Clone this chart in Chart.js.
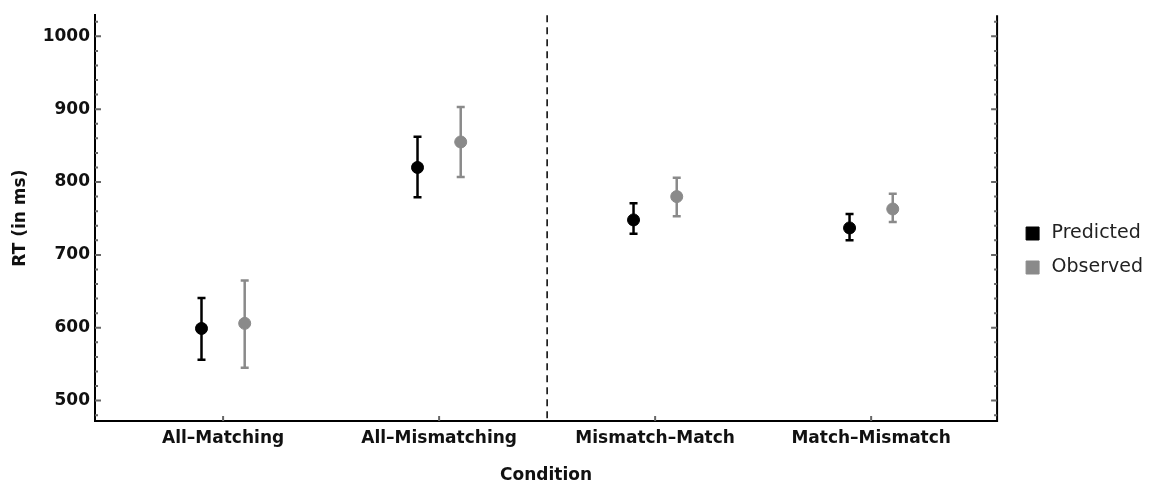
<!DOCTYPE html>
<html>
<head>
<meta charset="utf-8">
<script src="https://cdn.jsdelivr.net/npm/chart.js@4"></script>
<style>
html,body{margin:0;padding:0;background:#fff;}
#wrap{width:1153px;height:484px;position:relative;}
</style>
</head>
<body>
<div id="wrap"><canvas id="c" width="1153" height="484"></canvas></div>
<script>
// ---- data ----
const categories = ['All\u2013Matching', 'All\u2013Mismatching', 'Mismatch\u2013Match', 'Match\u2013Mismatch'];
const predicted     = [599, 820, 748, 737];
const predictedLow  = [556, 779, 729, 720];
const predictedHigh = [641, 862, 771, 756];
const observed      = [606, 855, 780, 763];
const observedLow   = [545, 807, 753, 745];
const observedHigh  = [665, 903, 806, 784];
const yTickValues = [500, 600, 700, 800, 900, 1000];
const yMinorTickValues = [480, 520, 540, 560, 580, 620, 640, 660, 680, 720, 740, 760, 780, 820, 840, 860, 880, 920, 940, 960, 980, 1020];
const dividerAfterCategory = 2;

// ---- styling ----
const FONT = 'DejaVu Sans';
const DODGE = 0.1;
const PRED_COLOR = '#000000';
const OBS_COLOR = '#8a8a8a';
const TEXT_COLOR = '#111111';
const TICK_COLOR = '#666666';

Chart.defaults.font.family = FONT;

const errorBars = [
  {low: predictedLow, high: predictedHigh},
  {low: observedLow, high: observedHigh}
];

const decorPlugin = {
  id: 'decor',
  beforeDatasetsDraw(chart) {
    const ctx = chart.ctx;
    const xs = chart.scales.x, ys = chart.scales.y;
    ctx.save();
    chart.data.datasets.forEach((ds, di) => {
      const eb = errorBars[di];
      ctx.strokeStyle = ds.borderColor;
      ctx.lineWidth = 2.5;
      ds.data.forEach((pt, i) => {
        const px = xs.getPixelForValue(pt.x);
        const pl = ys.getPixelForValue(eb.low[i]);
        const ph = ys.getPixelForValue(eb.high[i]);
        ctx.beginPath();
        ctx.moveTo(px, pl); ctx.lineTo(px, ph);
        ctx.moveTo(px - 4, pl); ctx.lineTo(px + 4, pl);
        ctx.moveTo(px - 4, ph); ctx.lineTo(px + 4, ph);
        ctx.stroke();
      });
    });
    ctx.restore();
  },
  afterDraw(chart) {
    const ctx = chart.ctx;
    const xs = chart.scales.x, ys = chart.scales.y;
    const a = chart.chartArea;
    ctx.save();
    // right frame line
    ctx.strokeStyle = '#000';
    ctx.lineWidth = 2;
    ctx.beginPath();
    ctx.moveTo(a.right, a.top); ctx.lineTo(a.right, a.bottom + 1);
    ctx.stroke();
    // dashed divider
    const dx = xs.getPixelForValue(dividerAfterCategory + 0.5);
    ctx.lineWidth = 1.5;
    ctx.setLineDash([7, 5]);
    ctx.beginPath();
    ctx.moveTo(dx, a.top); ctx.lineTo(dx, a.bottom);
    ctx.stroke();
    ctx.setLineDash([]);
    // ticks
    ctx.strokeStyle = TICK_COLOR;
    ctx.lineWidth = 2;
    ctx.beginPath();
    yTickValues.forEach(v => {
      const py = ys.getPixelForValue(v);
      ctx.moveTo(a.left, py); ctx.lineTo(a.left + 6, py);
      ctx.moveTo(a.right, py); ctx.lineTo(a.right - 6, py);
    });
    yMinorTickValues.forEach(v => {
      const py = ys.getPixelForValue(v);
      ctx.moveTo(a.left, py); ctx.lineTo(a.left + 3, py);
      ctx.moveTo(a.right, py); ctx.lineTo(a.right - 3, py);
    });
    categories.forEach((c, i) => {
      const px = xs.getPixelForValue(i + 1);
      ctx.moveTo(px, a.bottom); ctx.lineTo(px, a.bottom - 5);
    });
    ctx.stroke();
    ctx.restore();
  }
};

new Chart(document.getElementById('c'), {
  type: 'scatter',
  data: {
    datasets: [
      {
        label: 'Predicted',
        data: predicted.map((v, i) => ({x: i + 1 - DODGE, y: v})),
        backgroundColor: PRED_COLOR,
        borderColor: PRED_COLOR,
        borderWidth: 1,
        pointRadius: 6,
        pointHoverRadius: 6
      },
      {
        label: 'Observed',
        data: observed.map((v, i) => ({x: i + 1 + DODGE, y: v})),
        backgroundColor: OBS_COLOR,
        borderColor: OBS_COLOR,
        borderWidth: 1,
        pointRadius: 6,
        pointHoverRadius: 6
      }
    ]
  },
  options: {
    responsive: false,
    animation: false,
    devicePixelRatio: 1,
    events: [],
    layout: {padding: {top: 13, left: 0, bottom: 0, right: 0}},
    plugins: {
      tooltip: {enabled: false},
      legend: {
        position: 'right',
        align: 'center',
        title: {display: true, text: ' ', font: {size: 4, lineHeight: 1}, padding: 0},
        labels: {
          usePointStyle: true,
          pointStyle: 'rect',
          boxHeight: 13,
          boxWidth: 19,
          padding: 15,
          color: '#222',
          font: {family: FONT, size: 19}
        }
      }
    },
    scales: {
      x: {
        type: 'linear',
        min: 0.407,
        max: 4.583,
        afterBuildTicks: s => { s.ticks = categories.map((c, i) => ({value: i + 1})); },
        afterFit: s => { s.height = 63; },
        ticks: {
          autoSkip: false,
          maxRotation: 0,
          padding: 7,
          color: TEXT_COLOR,
          font: {family: FONT, size: 17, weight: 'bold'},
          callback: (v, idx) => categories[idx]
        },
        grid: {display: false, drawTicks: false},
        border: {display: true, color: '#000', width: 2},
        title: {
          display: true, text: 'Condition', color: TEXT_COLOR,
          font: {family: FONT, size: 17, weight: 'bold'},
          padding: {top: 0, bottom: -2}
        }
      },
      y: {
        type: 'linear',
        min: 472,
        max: 1029,
        afterBuildTicks: s => { s.ticks = yTickValues.map(v => ({value: v})); },
        afterFit: s => { s.width = 95; },
        ticks: {
          padding: 5,
          color: TEXT_COLOR,
          font: {family: FONT, size: 17, weight: 'bold'},
          callback: v => String(v)
        },
        grid: {display: false, drawTicks: false},
        border: {display: true, color: '#000', width: 2},
        title: {
          display: true, text: 'RT (in ms)', color: TEXT_COLOR,
          font: {family: FONT, size: 17, weight: 'bold'},
          padding: {top: 10, bottom: 0}
        }
      },
      y2: {
        position: 'right',
        display: true,
        afterFit: s => { s.width = 11; },
        ticks: {display: false},
        grid: {display: false, drawTicks: false},
        border: {display: false}
      }
    }
  },
  plugins: [decorPlugin]
});
</script>
</body>
</html>
